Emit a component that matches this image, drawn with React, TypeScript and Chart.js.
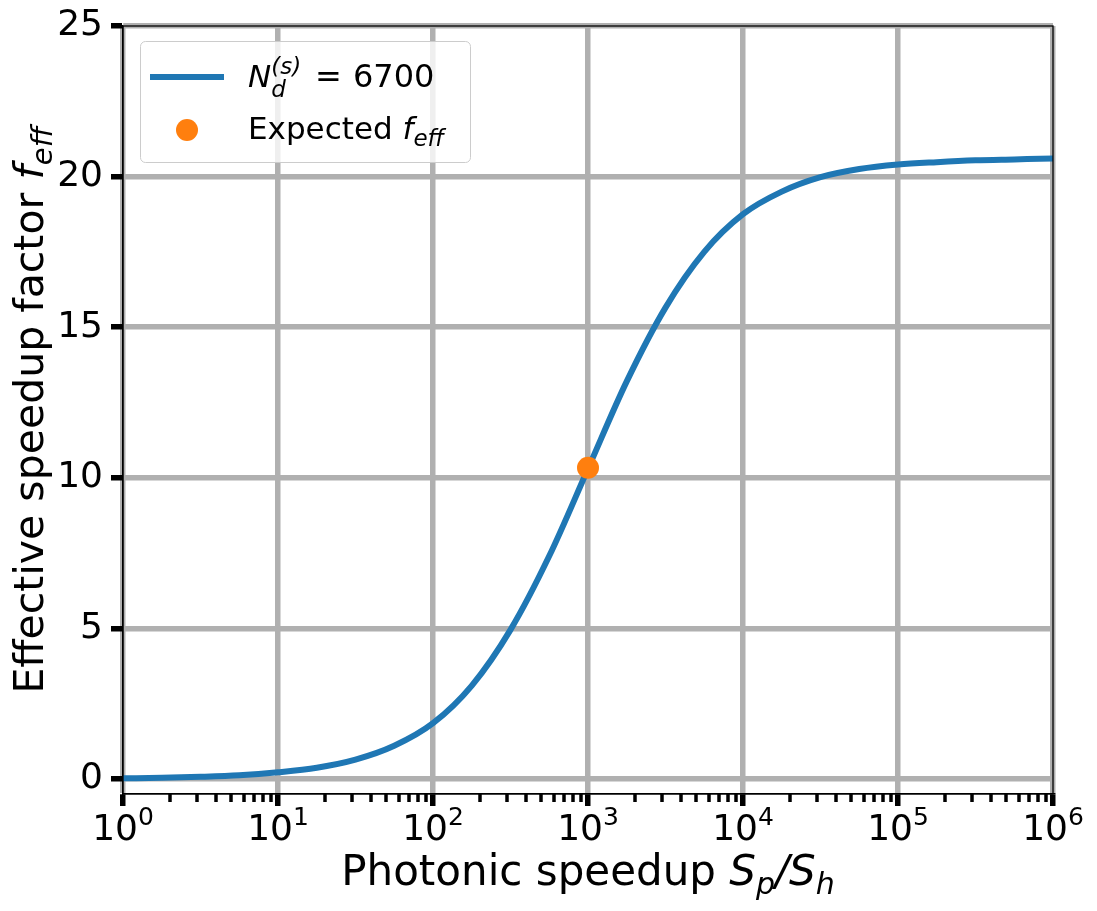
import { useEffect, useRef } from "react";
import { Chart, registerables } from "chart.js";

Chart.register(...registerables);

// curve f_eff(S_p/S_h), N_d^(s) = 6700
const speedups = [
  1, 1.78, 3.16, 5.62, 10, 17.8, 31.6, 56.2, 100, 178, 316, 562, 1000, 1778, 3162, 5623,
  10000, 17783, 31623, 56234, 100000, 177828, 316228, 562341, 1000000,
];
const fEffValues = [
  0.02, 0.04, 0.07, 0.12, 0.22, 0.37, 0.64, 1.1, 1.85, 3.1, 4.95, 7.4, 10.3, 13.2, 15.65, 17.5,
  18.75, 19.5, 19.98, 20.25, 20.4, 20.48, 20.54, 20.57, 20.6,
];

// expected operating point
const expectedSpeedup = [1000];
const expectedFEff = [10.33];

const xTickValues = [1, 10, 100, 1000, 10000, 100000, 1000000];
const xTickExponents = ["0", "1", "2", "3", "4", "5", "6"];
const yTickValues = [0, 5, 10, 15, 20, 25];

const FAMILY = '"DejaVu Sans", sans-serif';
const BLUE = "#1f77b4";
const ORANGE = "#ff7f0e";
const GRID = "#b0b0b0";

type Run = { t: string; size: number; it?: boolean; dy?: number; stay?: boolean };

const fontOf = (size: number, it?: boolean) => `${it ? "italic " : ""}${size}px ${FAMILY}`;

function runsWidth(ctx: CanvasRenderingContext2D, runs: Run[]) {
  let w = 0;
  for (const r of runs) {
    ctx.font = fontOf(r.size, r.it);
    if (!r.stay) w += ctx.measureText(r.t).width;
  }
  return w;
}

function drawRuns(ctx: CanvasRenderingContext2D, runs: Run[], x: number, y: number) {
  let cx = x;
  for (const r of runs) {
    ctx.font = fontOf(r.size, r.it);
    ctx.fillText(r.t, cx, y + (r.dy ?? 0));
    if (!r.stay) cx += ctx.measureText(r.t).width;
  }
}

const decorPlugin = {
  id: "decor",
  afterDatasetsDraw(chart: Chart) {
    const { ctx, chartArea } = chart;
    const xs = chart.scales.x;
    ctx.save();
    // minor ticks on the log axis
    ctx.strokeStyle = "#000";
    ctx.lineWidth = 3.5;
    for (let d = 0; d < 6; d++) {
      for (let m = 2; m <= 9; m++) {
        const px = Math.round(xs.getPixelForValue(m * Math.pow(10, d)));
        ctx.beginPath();
        ctx.moveTo(px, chartArea.bottom);
        ctx.lineTo(px, chartArea.bottom + 8);
        ctx.stroke();
      }
    }
    // spines
    ctx.lineWidth = 1.3;
    ctx.strokeRect(chartArea.left, chartArea.top, chartArea.right - chartArea.left, chartArea.bottom - chartArea.top);
    ctx.restore();
  },
  afterDraw(chart: Chart) {
    const { ctx, chartArea } = chart;
    const xs = chart.scales.x;
    ctx.save();
    ctx.fillStyle = "#000";
    ctx.textBaseline = "alphabetic";
    ctx.textAlign = "left";

    // x tick labels 10^n
    xTickValues.forEach((v, i) => {
      const runs: Run[] = [
        { t: "10", size: 36 },
        { t: xTickExponents[i], size: 25, dy: -15 },
      ];
      const px = xs.getPixelForValue(v);
      drawRuns(ctx, runs, px - runsWidth(ctx, runs) / 2, 840);
    });

    // x axis title
    const xTitle: Run[] = [
      { t: "Photonic speedup ", size: 42 },
      { t: "S", size: 42, it: true },
      { t: "p", size: 30, it: true, dy: 9 },
      { t: "/", size: 42, it: true },
      { t: "S", size: 42, it: true },
      { t: "h", size: 30, it: true, dy: 9 },
    ];
    const cx = (chartArea.left + chartArea.right) / 2;
    drawRuns(ctx, xTitle, cx - runsWidth(ctx, xTitle) / 2, 885);

    // y axis title
    const yTitle: Run[] = [
      { t: "Effective speedup factor ", size: 41 },
      { t: "f", size: 41, it: true },
      { t: "eff", size: 29, it: true, dy: 9 },
    ];
    ctx.save();
    ctx.translate(43, (chartArea.top + chartArea.bottom) / 2);
    ctx.rotate(-Math.PI / 2);
    drawRuns(ctx, yTitle, -runsWidth(ctx, yTitle) / 2, 0);
    ctx.restore();

    // legend
    ctx.beginPath();
    ctx.roundRect(140.5, 41.5, 330, 121, 5);
    ctx.fillStyle = "rgba(255,255,255,0.8)";
    ctx.fill();
    ctx.strokeStyle = "#cccccc";
    ctx.lineWidth = 1;
    ctx.stroke();

    ctx.strokeStyle = BLUE;
    ctx.lineWidth = 6;
    ctx.beginPath();
    ctx.moveTo(150, 77);
    ctx.lineTo(224, 77);
    ctx.stroke();

    ctx.fillStyle = ORANGE;
    ctx.beginPath();
    ctx.arc(187, 130, 11, 0, Math.PI * 2);
    ctx.fill();

    ctx.fillStyle = "#000";
    drawRuns(
      ctx,
      [
        { t: "N", size: 31, it: true },
        { t: "d", size: 23, it: true, dy: 10, stay: true },
        { t: "(s)", size: 23, it: true, dy: -13 },
      ],
      248,
      87
    );
    drawRuns(ctx, [{ t: "=", size: 32 }], 315, 87);
    drawRuns(ctx, [{ t: "6700", size: 32 }], 353, 87);
    drawRuns(
      ctx,
      [
        { t: "Expected ", size: 31 },
        { t: "f", size: 31, it: true },
        { t: "eff", size: 23, it: true, dy: 7 },
      ],
      248,
      139
    );
    ctx.restore();
  },
};

export default function App() {
  const canvasRef = useRef<HTMLCanvasElement>(null);

  useEffect(() => {
    if (!canvasRef.current) return;
    const chart = new Chart(canvasRef.current, {
      type: "scatter",
      data: {
        datasets: [
          {
            label: "Expected f_eff",
            data: expectedSpeedup.map((x, i) => ({ x, y: expectedFEff[i] })),
            pointRadius: 11,
            pointBackgroundColor: ORANGE,
            pointBorderWidth: 0,
            showLine: false,
            order: 1,
          },
          {
            label: "N_d^(s) = 6700",
            data: speedups.map((x, i) => ({ x, y: fEffValues[i] })),
            showLine: true,
            pointRadius: 0,
            borderColor: BLUE,
            borderWidth: 6,
            borderCapStyle: "butt",
            cubicInterpolationMode: "monotone",
            order: 2,
          },
        ],
      },
      options: {
        animation: false,
        responsive: true,
        maintainAspectRatio: false,
        events: [],
        layout: { padding: { top: 24, right: 44, left: 0, bottom: 0 } },
        plugins: {
          legend: { display: false },
          tooltip: { enabled: false },
        },
        scales: {
          x: {
            type: "logarithmic",
            min: 1,
            max: 1000000,
            afterBuildTicks: (scale) => {
              scale.ticks = xTickValues.map((value) => ({ value, major: true }));
            },
            afterFit: (scale) => {
              scale.height = 117;
            },
            ticks: { display: false },
            grid: {
              color: GRID,
              lineWidth: 5.5,
              drawTicks: true,
              tickLength: 12,
              tickWidth: 5.5,
              tickColor: "#000",
            },
            border: { display: true, color: "#000", width: 1.3 },
          },
          y: {
            type: "linear",
            min: -0.5,
            max: 25,
            afterBuildTicks: (scale) => {
              scale.ticks = yTickValues.map((value) => ({ value }));
            },
            afterFit: (scale) => {
              scale.width = 123;
            },
            ticks: {
              color: "#000",
              padding: 8,
              font: { family: FAMILY, size: 36, lineHeight: 1 },
            },
            grid: {
              color: GRID,
              lineWidth: 5.5,
              drawTicks: true,
              tickLength: 12,
              tickWidth: 5.5,
              tickColor: "#000",
            },
            border: { display: true, color: "#000", width: 1.3 },
          },
        },
      },
      plugins: [decorPlugin],
    });
    return () => chart.destroy();
  }, []);

  return (
    <div style={{ position: "fixed", left: 0, top: 0, width: 1097, height: 911, background: "#fff" }}>
      <canvas ref={canvasRef} />
    </div>
  );
}
